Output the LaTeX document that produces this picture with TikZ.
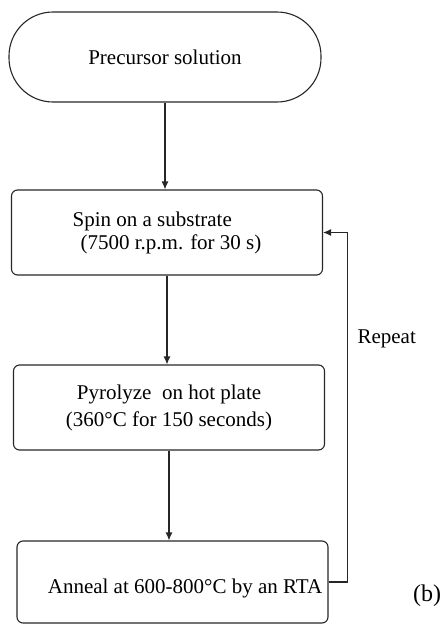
\documentclass[tikz,border=0pt]{standalone}
\usepackage{fontspec}
\setmainfont{Liberation Serif}
\usepackage{tikz}
\usetikzlibrary{arrows.meta, positioning, calc}

\begin{document}
\begin{tikzpicture}[x=1pt, y=1pt,
  term/.style  = {rectangle, draw, rounded corners=44pt, minimum width=312pt,
                  minimum height=90pt, text centered},
  box/.style   = {rectangle, draw, rounded corners=6pt, minimum width=311pt,
                  minimum height=85pt},
  lbl/.style   = {inner sep=0pt},
  arr/.style   = {-{Latex[length=8pt,width=7pt]}, line width=1.1pt, black!85}
]
\useasboundingbox (0,0) rectangle (447,-624);
\tikzset{every node/.style={font=\fontsize{21pt}{23pt}\selectfont, line width=1.1pt, draw=black!85}}

\node[term]  (precursor) at (165,-57)    {Precursor solution};
\node[box, align=left] (spin) at (167,-232.5)
  {Spin on a substrate\\\hspace*{8pt}(7500 r.p.m. for 30 s)};
\node[box, align=center, font=\fontsize{21pt}{27pt}\selectfont] (pyro) at (169,-407.5)
  {Pyrolyze~ on hot plate\\(360°C for 150 seconds)};
\node[box, minimum height=82pt] (anneal) at (172.5,-582) {};
\node[lbl, draw=none] (annealtxt) at (185,-588) {Anneal at 600-800°C by an RTA};

\node[lbl, draw=none, anchor=west] (repeat) at (357,-339) {Repeat};
\node[lbl, draw=none, font=\fontsize{24pt}{26pt}\selectfont] (figb) at (427,-596) {(b)};

\draw[arr] (precursor.south) -- (precursor.south |- spin.north);
\draw[arr] (spin.south) -- (spin.south |- pyro.north);
\draw[arr] (pyro.south) -- (pyro.south |- anneal.north);
\draw[arr] (anneal.east) -- ++(19,0) |- (spin.east);
\end{tikzpicture}
\end{document}
